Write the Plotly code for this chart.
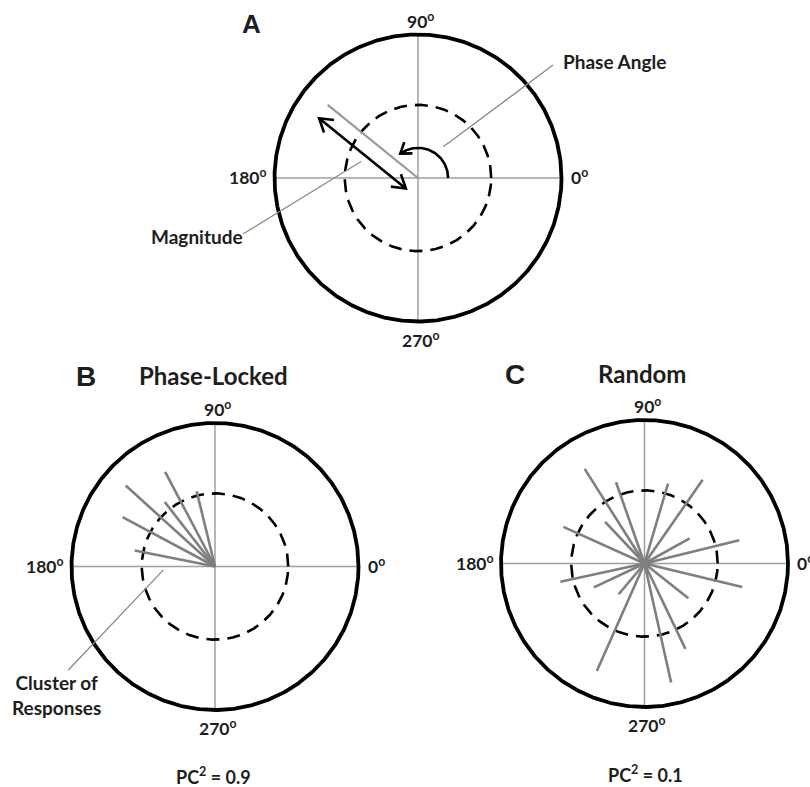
import numpy as np
import plotly.graph_objects as go

# ---------------- data ----------------
# Panel A: one example response (phase in degrees, magnitude relative to outer circle)
A_PHASE = 141.0
A_MAGNITUDE = 0.81

# Panel B: phase-locked responses
B_PHASES = [117.8, 137.8, 103.7, 127.9, 151.9, 168.7]
B_MAGNITUDES = [0.745, 0.84, 0.54, 0.57, 0.73, 0.57]

# Panel C: random responses
C_PHASES = [122.3, 109.3, 73.6, 55.2, 133.4, 155.7, 29.1, 13.8,
            192.3, 205.2, 230.0, 346.5, 321.6, 246.1, 282.6, 295.6]
C_MAGNITUDES = [0.78, 0.60, 0.58, 0.71, 0.40, 0.62, 0.36, 0.68,
                0.60, 0.39, 0.28, 0.70, 0.39, 0.82, 0.85, 0.66]

PC2_B = 0.9
PC2_C = 0.1

AXIS_LABELS = ["0", "90", "180", "270"]
REFERENCE_RADIUS = 0.51   # dashed circle

# ---------------- layout geometry ----------------
W, H = 810, 787
SCALE = 143.5  # pixels per unit radius

PANELS = {
    "A": dict(center=(418, 178), box=(140, 5, 690, 350), ax=""),
    "B": dict(center=(215, 566.5), box=(0, 395, 405, 745), ax="2"),
    "C": dict(center=(644.5, 563.5), box=(425, 395, 810, 745), ax="3"),
}

GRID_GRAY = "#a0a0a0"
SPOKE_GRAY = "#7f7f7f"
TEXT = "#1e1e1e"
FONT = "Lato"

fig = go.Figure()
layout = dict(width=W, height=H, margin=dict(l=0, r=0, t=0, b=0), autosize=False,
              showlegend=False, plot_bgcolor="white", paper_bgcolor="white")

for key, p in PANELS.items():
    cx, cy = p["center"]
    x0, y0, x1, y1 = p["box"]
    axis_common = dict(visible=False, showgrid=False, zeroline=False, fixedrange=True)
    layout["xaxis" + p["ax"]] = dict(domain=[x0 / W, x1 / W],
                                     range=[(x0 - cx) / SCALE, (x1 - cx) / SCALE],
                                     anchor="y" + p["ax"], **axis_common)
    layout["yaxis" + p["ax"]] = dict(domain=[1 - y1 / H, 1 - y0 / H],
                                     range=[(cy - y1) / SCALE, (cy - y0) / SCALE],
                                     anchor="x" + p["ax"], **axis_common)
fig.update_layout(**layout)


def add_line(panel, x, y, color, width, dash="solid"):
    ax = PANELS[panel]["ax"]
    fig.add_trace(go.Scatter(x=x, y=y, mode="lines", hoverinfo="skip",
                             line=dict(color=color, width=width, dash=dash),
                             xaxis="x" + ax, yaxis="y" + ax))


def polar_xy(angle_deg, r):
    a = np.deg2rad(angle_deg)
    return r * np.cos(a), r * np.sin(a)


def chevron(tip, direction_deg, length, half_angle=32):
    """Open arrow head at `tip` pointing along direction_deg."""
    back = direction_deg + 180
    xa, ya = polar_xy(back + half_angle, length)
    xb, yb = polar_xy(back - half_angle, length)
    return [tip[0] + xa, tip[0], tip[0] + xb], [tip[1] + ya, tip[1], tip[1] + yb]


def spokes(phases, mags):
    xs, ys = [], []
    for a, m in zip(phases, mags):
        ex, ey = polar_xy(a, m)
        xs += [0, ex, None]
        ys += [0, ey, None]
    return xs, ys


t = np.linspace(0, 2 * np.pi, 721)
for key in PANELS:
    # crosshair
    add_line(key, [-1, 1, None, 0, 0], [0, 0, None, -1, 1], GRID_GRAY, 1.5)
    # dashed reference circle
    add_line(key, REFERENCE_RADIUS * np.cos(t), REFERENCE_RADIUS * np.sin(t),
             "black", 2.6, dash="13px,8px")

# response vectors
sx, sy = spokes([A_PHASE], [A_MAGNITUDE])
add_line("A", sx, sy, "#999999", 2.2)
sx, sy = spokes(B_PHASES, B_MAGNITUDES)
add_line("B", sx, sy, SPOKE_GRAY, 2.6)
sx, sy = spokes(C_PHASES, C_MAGNITUDES)
add_line("C", sx, sy, SPOKE_GRAY, 2.6)

for key in PANELS:
    add_line(key, np.cos(t), np.sin(t), "black", 3.8)

# ---- Panel A annotations: magnitude double arrow and phase arc ----
u = np.array(polar_xy(A_PHASE, 1.0))
n = np.array(polar_xy(A_PHASE + 90, 1.0))   # points down-left, away from the vector
offset = 0.11
p_start = u * (A_MAGNITUDE * 0.985) + n * offset
p_end = u * 0.02 + n * offset
add_line("A", [p_start[0], p_end[0]], [p_start[1], p_end[1]], "black", 2.6)
hx, hy = chevron(p_start, A_PHASE, 0.105)
add_line("A", hx, hy, "black", 2.6)
hx, hy = chevron(p_end, A_PHASE + 180, 0.105)
add_line("A", hx, hy, "black", 2.6)

ARC_R = 0.21
arc_end = A_PHASE - 15
arc_t = np.deg2rad(np.linspace(0, arc_end, 120))
add_line("A", ARC_R * np.cos(arc_t), ARC_R * np.sin(arc_t), "black", 2.6)
tip = polar_xy(arc_end, ARC_R)
hx, hy = chevron(tip, arc_end + 90, 0.085, half_angle=35)
add_line("A", hx, hy, "black", 2.6)

# leader lines for callouts
LEADER = "#8a8a8a"
ph0 = polar_xy(51, ARC_R + 0.07)
add_line("A", [ph0[0], 0.941], [ph0[1], 0.787], LEADER, 1.3)
mid = u * (A_MAGNITUDE * 0.47) + n * (offset + 0.05)
add_line("A", [mid[0], -1.217], [mid[1], -0.389], LEADER, 1.3)
cl0 = polar_xy(183.8, 0.36)
add_line("B", [cl0[0], -1.022], [cl0[1], -0.721], LEADER, 1.3)

# ---------------- text ----------------
annotations = []


def text(x, y, s, size, xanchor="center", ref="", family=FONT, bold=True, paper=False):
    d = dict(x=x, y=y, text=f"<b>{s}</b>" if bold else s, showarrow=False,
             xanchor=xanchor, yanchor="middle",
             font=dict(family=family, size=size, color=TEXT))
    if paper:
        d.update(xref="paper", yref="paper", x=x / W, y=1 - y / H)
    else:
        d.update(xref="x" + ref, yref="y" + ref)
    annotations.append(d)


deg = "<sup>o</sup>"
for key, p in PANELS.items():
    ax = p["ax"]
    text(0.02, 1.10, AXIS_LABELS[1] + deg, 17.5, ref=ax)
    text(1.05, 0.01, AXIS_LABELS[0] + deg, 17.5, xanchor="left", ref=ax)
    text(-1.035, 0.01, AXIS_LABELS[2] + deg, 17.5, xanchor="right", ref=ax)
    text(0.02, -1.125, AXIS_LABELS[3] + deg, 17.5, ref=ax)

text(251, 24, "A", 26, family="Liberation Sans", paper=True)
text(86, 377, "B", 28, family="Liberation Sans", paper=True)
text(515, 374, "C", 28, family="Liberation Sans", paper=True)
text(214, 375, "Phase-Locked", 24, paper=True)
text(642, 373, "Random", 24, paper=True)
text(561, 62, "Phase Angle", 19, xanchor="left", paper=True)
text(245, 236, "Magnitude", 19, xanchor="right", paper=True)
text(10, 695, "Cluster of<br>Responses", 19, xanchor="left", paper=True)
text(214, 776, f"PC<sup>2</sup> = {PC2_B}", 18, paper=True)
text(645, 774, f"PC<sup>2</sup> = {PC2_C}", 18, paper=True)

fig.update_layout(annotations=annotations)
fig.write_html("out.html")
